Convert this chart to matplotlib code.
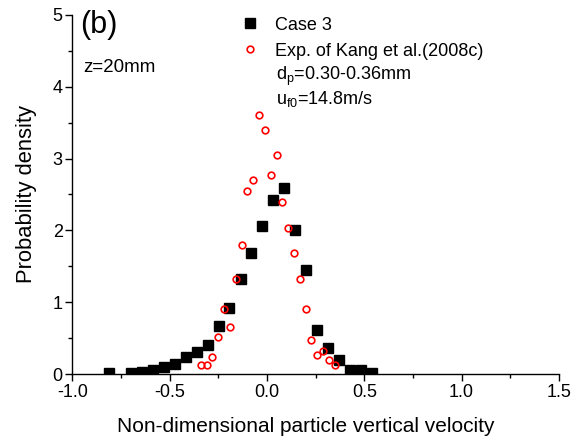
import matplotlib
matplotlib.use("Agg")
import matplotlib.pyplot as plt
from matplotlib.ticker import MultipleLocator

plt.rcParams["font.family"] = ["Liberation Sans", "DejaVu Sans"]
plt.rcParams["mathtext.fontset"] = "custom"
plt.rcParams["mathtext.rm"] = "Liberation Sans"
plt.rcParams["mathtext.it"] = "Liberation Sans:italic"
plt.rcParams["axes.unicode_minus"] = False

# Case 3 (simulation), black squares
case3_v = [-0.812, -0.699, -0.643, -0.587, -0.530, -0.474, -0.418, -0.361,
           -0.305, -0.249, -0.193, -0.136, -0.080, -0.024, 0.033, 0.089,
           0.146, 0.202, 0.259, 0.315, 0.372, 0.428, 0.485, 0.541]
case3_pdf = [0.02, 0.02, 0.03, 0.06, 0.10, 0.135, 0.23, 0.31,
             0.40, 0.67, 0.92, 1.32, 1.68, 2.06, 2.43, 2.59,
             2.00, 1.45, 0.61, 0.36, 0.19, 0.06, 0.05, 0.02]

# Experiment of Kang et al. (2008c), red open circles
exp_v = [-0.341, -0.310, -0.283, -0.250, -0.219, -0.192, -0.161, -0.130,
         -0.101, -0.070, -0.041, -0.010, 0.019, 0.050, 0.079, 0.110,
         0.139, 0.168, 0.199, 0.226, 0.259, 0.288, 0.317, 0.349]
exp_pdf = [0.12, 0.12, 0.23, 0.51, 0.90, 0.66, 1.32, 1.79,
           2.55, 2.70, 3.60, 3.40, 2.77, 3.05, 2.39, 2.03,
           1.68, 1.32, 0.90, 0.47, 0.27, 0.32, 0.195, 0.12]

fig = plt.figure(figsize=(5.84, 4.4), dpi=100)
ax = fig.add_axes([0.124, 0.15, 0.833, 0.816])

ax.plot(case3_v, case3_pdf, linestyle="none", marker="s", markersize=6.5,
        color="black", label="Case 3")
ax.plot(exp_v, exp_pdf, linestyle="none", marker="o", markersize=4.8,
        markerfacecolor="none", markeredgecolor="red", markeredgewidth=1.2,
        label="Exp. of Kang et al.(2008c)")

ax.set_xlim(-1.0, 1.5)
ax.set_ylim(0, 5)
ax.xaxis.set_major_locator(MultipleLocator(0.5))
ax.xaxis.set_minor_locator(MultipleLocator(0.25))
ax.yaxis.set_major_locator(MultipleLocator(1))
ax.yaxis.set_minor_locator(MultipleLocator(0.5))
ax.set_xticks([-1.0, -0.5, 0.0, 0.5, 1.0, 1.5])
ax.set_xticklabels(["-1.0", "-0.5", "0.0", "0.5", "1.0", "1.5"])

for side in ["top", "right"]:
    ax.spines[side].set_visible(False)
for side in ["left", "bottom"]:
    ax.spines[side].set_linewidth(1.0)
ax.tick_params(which="major", direction="out", length=5, width=1.0,
               labelsize=13, pad=2)
ax.tick_params(which="minor", direction="out", length=3, width=1.0)

ax.set_xlabel("Non-dimensional particle vertical velocity", fontsize=15,
              labelpad=12)
ax.xaxis.label.set_x(0.48)
ax.set_ylabel("Probability density", fontsize=15.8, labelpad=11)

ax.text(0.015, 0.95, "(b)", transform=ax.transAxes, fontsize=22,
        va="baseline", ha="left")
ax.text(0.0216, 0.841, "z=20mm", transform=ax.transAxes, fontsize=13.5,
        va="baseline", ha="left")

ax.legend(loc="upper left", bbox_to_anchor=(0.342, 1.005), frameon=False,
          fontsize=13, handlelength=0.8, handletextpad=1.0,
          labelspacing=0.5, borderaxespad=0, borderpad=0.2)

ax.text(0.418, 0.818, "d$_\\mathrm{p}$=0.30-0.36mm", transform=ax.transAxes,
        fontsize=13, va="baseline", ha="left")
ax.text(0.418, 0.752, "u$_\\mathrm{f0}$=14.8m/s", transform=ax.transAxes,
        fontsize=13, va="baseline", ha="left")

fig.savefig("out.png", dpi=100)
